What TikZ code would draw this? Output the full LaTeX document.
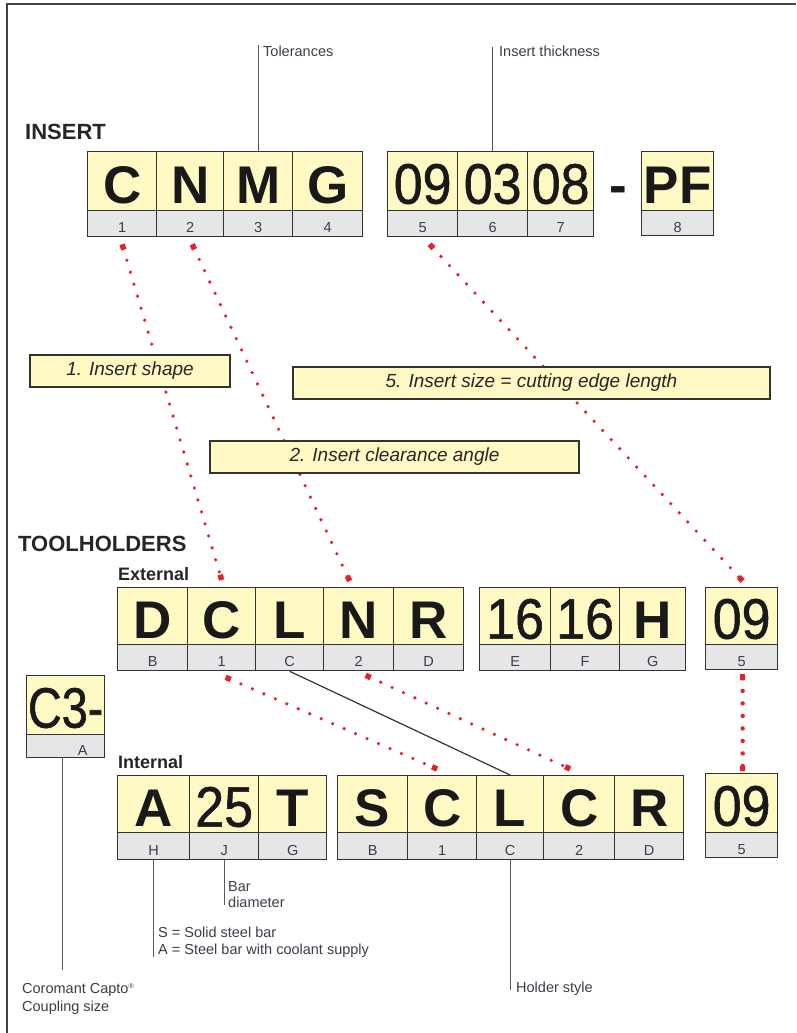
\documentclass[tikz,border=0pt]{standalone}
\usepackage{fontspec}
\setmainfont{Liberation Sans}
\newfontfamily\digfam{Liberation Sans}[FakeStretch=0.91, FakeBold=1.0]
\newfontfamily\cthreefam{Liberation Sans}[FakeStretch=0.82, FakeBold=1.0]
\usetikzlibrary{arrows.meta}
\definecolor{yel}{HTML}{FFF9C4}
\definecolor{gry}{HTML}{E6E6E8}
\definecolor{bord}{HTML}{333333}
\definecolor{rdot}{HTML}{E8202A}
\definecolor{labcol}{HTML}{3C3C4A}
\definecolor{leadcol}{HTML}{5A5A5A}
\definecolor{framecol}{HTML}{444444}
\newcommand\lett{\fontsize{53pt}{53pt}\selectfont\bfseries}
\newcommand\digs{\digfam\fontsize{57pt}{57pt}\selectfont}
\newcommand\cthree{\cthreefam\fontsize{57pt}{57pt}\selectfont}
\newcommand\labf{\fontsize{14.5pt}{16pt}\selectfont}
\newcommand\cellpair[8]{%
  \node[bigcell, minimum width={#3-#2}, minimum height={#5-#4}] (#1) at (#2,#4) {#7};
  \node[labcell, minimum width={#3-#2}, minimum height={#6-#5}] (#1l) at (#2,#5) {#8};
}
\begin{document}
\begin{tikzpicture}[x=1pt,y=-1pt,
  bigcell/.style={draw=bord, fill=yel, line width=1.3pt, inner sep=0pt, anchor=north west,
    text height=45pt, text depth=0pt, text=black!90},
  labcell/.style={draw=bord, fill=gry, line width=1.3pt, inner sep=0pt, anchor=north west,
    text height=18pt, text depth=0pt, font=\labf, text=labcol},
  callout/.style={draw=bord, fill=yel, line width=1.3pt, inner sep=0pt,
    font=\fontsize{19pt}{22pt}\selectfont\itshape, text=black!85},
  reddot/.style={draw=rdot, line width=3.6pt, line cap=round, dash pattern=on 0pt off 12.5pt,
    {Square[length=5.5pt,width=5.5pt]}-{Square[length=5.5pt,width=5.5pt]}},
  lead/.style={draw=leadcol, line width=1pt},
  lbl/.style={font=\fontsize{14.5pt}{17pt}\selectfont, text=labcol, inner sep=0pt, anchor=base west},
  title/.style={font=\fontsize{22pt}{24pt}\selectfont\bfseries, text=black!85, inner sep=0pt, anchor=base west},
  subtitle/.style={font=\fontsize{18pt}{20pt}\selectfont\bfseries, text=black!85, inner sep=0pt, anchor=base west}
]
\useasboundingbox (0,0) rectangle (796,1033);
% frame
\draw[framecol, line width=2pt] (7,1033) -- (7,4) -- (796,4);

% titles
\node[title] (tinsert) at (25,139) {INSERT};
\node[title] (ttool) at (18,551) {TOOLHOLDERS};
\node[subtitle] (text) at (118,580) {External};
\node[subtitle] (tint) at (118,768) {Internal};

% insert row
\cellpair{i1}{87}{156}{151}{210}{236}{\lett C}{1}
\cellpair{i2}{156}{223}{151}{210}{236}{\lett N}{2}
\cellpair{i3}{223}{292}{151}{210}{236}{\lett M}{3}
\cellpair{i4}{292}{362}{151}{210}{236}{\lett G}{4}
\cellpair{i5}{387}{457}{151}{210}{236}{\digs 09}{5}
\cellpair{i6}{457}{527}{151}{210}{236}{\digs 03}{6}
\cellpair{i7}{527}{593}{151}{210}{236}{\digs 08}{7}
\node[font=\lett, text=black!90, inner sep=0pt, anchor=base] (dash) at (618,203) {-};
\cellpair{i8}{641}{713}{151}{210}{235}{\lett PF}{8}

% external row
\cellpair{e1}{117}{187}{587}{644}{670}{\lett D}{B}
\cellpair{e2}{187}{255}{587}{644}{670}{\lett C}{1}
\cellpair{e3}{255}{323}{587}{644}{670}{\lett L}{C}
\cellpair{e4}{323}{393}{587}{644}{670}{\lett N}{2}
\cellpair{e5}{393}{463}{587}{644}{670}{\lett R}{D}
\cellpair{e6}{479}{550}{587}{644}{670}{\digs 16}{E}
\cellpair{e7}{550}{619}{587}{644}{670}{\digs 16}{F}
\cellpair{e8}{619}{685}{587}{644}{670}{\lett H}{G}
\cellpair{e9}{705}{777}{587}{644}{669}{\digs 09}{5}

% C3- box
\cellpair{c3}{26}{104}{675}{734}{757}{\cthree C3-}{\hspace*{34pt}A}

% internal row
\cellpair{n1}{117}{189}{775}{832}{859}{\lett A}{H}
\cellpair{n2}{189}{258}{775}{832}{859}{\digs 25}{J}
\cellpair{n3}{258}{326}{775}{832}{859}{\lett T}{G}
\cellpair{n4}{337}{407}{775}{832}{859}{\lett S}{B}
\cellpair{n5}{407}{476}{775}{832}{859}{\lett C}{1}
\cellpair{n6}{476}{543}{775}{832}{859}{\lett L}{C}
\cellpair{n7}{543}{614}{775}{832}{859}{\lett C}{2}
\cellpair{n8}{614}{683}{775}{832}{859}{\lett R}{D}
\cellpair{n9}{705}{777}{773}{832}{857}{\digs 09}{5}

% leader lines and their labels
\coordinate (tolT) at (256,45);
\coordinate (thkT) at (493,47);
\draw[lead] (i3.north) -- (i3.north |- tolT);
\node[lbl] (tol) at (263,57) {Tolerances};
\draw[lead] (i6.north) -- (i6.north |- thkT);
\node[lbl] (thk) at (499,57) {Insert thickness};

\coordinate (capT) at (62,757);
\coordinate (capB) at (62,970);
\draw[lead] (capT) -- (capB);
\node[lbl] (cap1) at (22,993) {Coromant Capto\raisebox{5pt}{\fontsize{7pt}{7pt}\selectfont ®}};
\node[lbl] (cap2) at (22,1011) {Coupling size};

\coordinate (hB) at (153,957);
\draw[lead] (n1l.south) -- (n1l.south |- hB);
\node[lbl] (h1) at (158,937) {S = Solid steel bar};
\node[lbl] (h2) at (158,954) {A = Steel bar with coolant supply};

\coordinate (jB) at (222,905);
\draw[lead] (n2l.south) -- (n2l.south |- jB);
\node[lbl] (j1) at (228,891) {Bar};
\node[lbl] (j2) at (228,907) {diameter};

\coordinate (sB) at (508,990);
\draw[lead] (n6l.south) -- (n6l.south |- sB);
\node[lbl] (hs) at (516,992) {Holder style};

% black holder-style connector
\draw[bord, line width=1.2pt] (e3l.south) -- (n6.north);

% red dotted connectors
\draw[reddot] ([yshift=-7pt]i1l.south) -- ([yshift=7pt]e2.north);
\draw[reddot] ([xshift=2pt,yshift=-7pt]i2l.south) -- ([xshift=-9pt,yshift=6pt]e4.north);
\draw[reddot] ([xshift=7pt,yshift=-7pt]i5l.south) -- ([xshift=1pt,yshift=6pt]e9.north);
\draw[reddot] ([xshift=4pt,yshift=-6pt]e2l.south) -- ([xshift=-5pt,yshift=6pt]n5.north);
\draw[reddot] ([xshift=7pt,yshift=-4pt]e4l.south) -- ([xshift=-9pt,yshift=6pt]n7.north);
\draw[reddot, line width=4.4pt] ([xshift=1pt,yshift=-4pt]e9l.south) -- ([xshift=1pt,yshift=2pt]n9.north);

% callout boxes (on top of dotted lines)
\node[callout, minimum width=200pt, minimum height=32pt] (b1) at (130,371) {1. Insert shape};
\node[callout, minimum width=477pt, minimum height=32pt] (b5) at (531.5,383) {5. Insert size = cutting edge length};
\node[callout, minimum width=369pt, minimum height=32pt] (b2) at (394.5,457) {2. Insert clearance angle};
\end{tikzpicture}
\end{document}
